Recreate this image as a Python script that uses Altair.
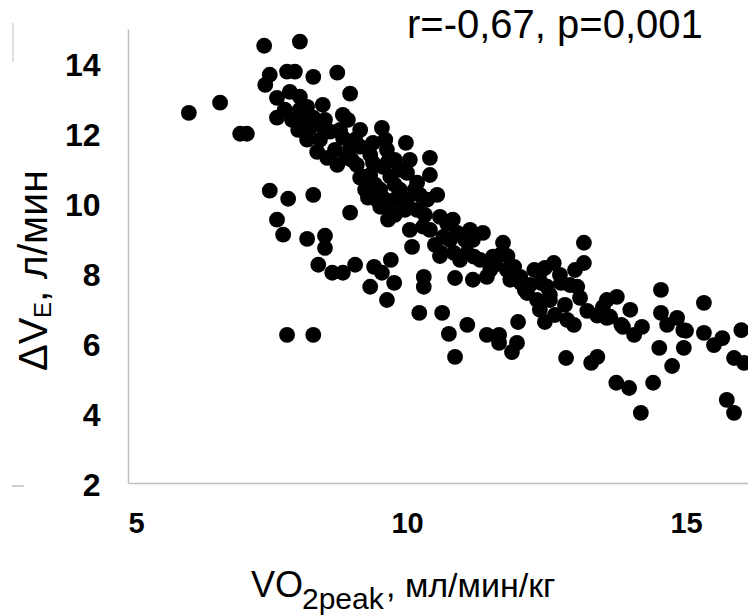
import altair as alt
import pandas as pd

# VO2peak (ml/min/kg) and ΔVE (l/min)
vo2 = [
    7.44, 8.08, 6.09, 6.65, 7.01, 7.13, 7.46, 7.54, 7.85, 7.99, 8.32, 8.75, 8.98, 7.67, 7.67,
    7.90, 8.08, 8.21, 8.49, 8.85, 8.05, 8.21, 8.39, 8.57, 8.75, 8.92, 8.98, 8.85, 8.62, 8.44,
    8.32, 9.10, 9.16, 8.94, 9.55, 9.98, 10.41, 10.41, 10.54, 8.98, 9.16, 9.39, 9.64, 9.21, 9.39,
    9.57, 9.70, 10.00, 10.18, 9.87, 9.30, 9.52, 9.66, 10.00, 10.18, 10.36, 10.05, 10.09, 10.29, 10.59,
    10.82, 10.90, 10.65, 10.59, 11.18, 11.36, 11.08, 11.31, 11.54, 11.72, 11.79, 12.03, 12.15, 12.38, 12.51,
    12.33, 10.86, 11.43, 9.66, 9.46, 9.71, 10.23, 10.61, 10.84, 11.20, 11.92, 12.28, 12.63, 12.04, 12.40,
    12.76, 13.05, 13.17, 13.17, 13.58, 13.76, 14.55, 15.32, 10.30, 10.30, 9.77, 9.71, 9.41,
    8.71, 9.01, 9.34, 9.78, 9.96, 9.78, 9.52, 9.25, 9.16, 8.44, 8.26, 8.08, 7.81, 7.94,
    10.41, 10.72, 11.04, 11.58, 11.80,
    12.47, 12.74, 12.92, 12.56, 12.83, 13.10, 12.65, 12.38, 13.01, 12.11, 12.56,
    9.34, 9.78, 10.05, 9.61, 9.87, 10.14, 9.78, 10.32, 10.50, 10.77, 10.95, 11.13, 11.67, 11.49,
    11.85, 12.20, 9.07, 8.80, 8.53, 8.17, 9.43, 9.61,
    7.54, 7.87, 8.32, 7.67, 7.78, 8.21, 8.53, 8.53, 8.41, 8.66, 8.85, 9.07, 7.85, 8.32,
    9.34, 9.55, 9.64, 10.22, 10.63, 11.08, 10.75, 10.86, 11.43, 11.65, 11.65, 11.88, 11.97, 11.99, 12.47,
    11.18, 12.85, 13.30, 13.41, 13.75, 13.98, 14.19, 14.41, 14.52, 14.75, 14.55, 14.84, 15.00, 14.96, 15.32,
    15.50, 15.65, 15.86, 16.04, 15.99, 15.73, 15.86, 13.58, 13.84, 14.07, 12.87, 12.99, 13.23, 13.41,
    14.00, 13.51, 13.64, 13.87, 14.21, 14.66, 14.95,
]
dve = [
    14.52, 14.64, 12.60, 12.89, 12.00, 12.00, 13.40, 13.69, 13.78, 13.78, 13.63, 13.75, 13.15, 13.03, 12.46,
    13.20, 13.06, 12.77, 12.83, 12.54, 12.11, 11.83, 11.48, 11.31, 11.11, 11.31, 11.60, 11.89, 12.06, 12.26,
    12.46, 11.11, 10.74, 12.40, 12.17, 11.74, 11.31, 10.82, 10.25, 9.74, 11.63, 11.74, 11.54, 10.77, 11.17,
    11.05, 10.77, 10.88, 10.60, 10.40, 10.17, 9.91, 9.54, 10.11, 9.82, 10.11, 9.25, 8.76, 9.34, 9.62,
    9.54, 9.16, 9.05, 8.50, 8.96, 9.16, 8.59, 8.39, 8.48, 8.88, 8.10, 7.90, 7.44, 8.02, 7.62,
    7.24, 7.87, 7.90, 11.20, 10.11, 9.74, 10.25, 8.59, 8.59, 8.48, 8.19, 8.10, 8.30, 7.73, 7.73,
    7.73, 7.62, 8.88, 8.30, 7.24, 7.33, 7.53, 7.16, 7.90, 7.62, 7.73, 8.39, 8.19,
    11.54, 11.25, 10.82, 10.54, 9.82, 10.11, 10.40, 10.40, 12.11, 11.83, 12.17, 12.69, 12.69, 12.40,
    9.25, 9.42, 8.96, 8.25, 8.50,
    8.16, 7.96, 7.67, 7.24, 7.10, 7.30, 6.81, 6.96, 8.10, 7.53, 7.39,
    11.40, 11.25, 11.25, 11.83, 10.97, 10.40, 9.68, 9.68, 8.82, 8.96, 8.39, 9.25, 8.53, 8.10,
    7.82, 7.67, 11.83, 12.11, 12.40, 12.40, 10.54, 10.11,
    10.37, 10.14, 10.25, 9.54, 9.11, 8.99, 9.08, 8.73, 8.25, 8.02, 8.02, 8.25, 6.24, 6.24,
    7.62, 8.02, 7.24, 6.87, 6.87, 6.53, 6.27, 5.61, 6.24, 6.24, 6.01, 5.75, 6.01, 6.61, 6.61,
    7.82, 5.58, 5.44, 5.61, 4.87, 4.72, 4.01, 4.87, 5.87, 5.35, 6.87, 6.73, 6.36, 5.87, 6.30,
    5.95, 6.15, 5.58, 5.44, 6.38, 4.38, 4.01, 6.73, 6.53, 6.24, 6.67, 6.53, 6.93, 6.79,
    6.96, 7.04, 6.76, 6.47, 6.47, 6.53, 6.38,
]

x_ticks = [5, 10, 15]
y_ticks = [2, 4, 6, 8, 10, 12, 14]
stat_text = ["r=-0,67, p=0,001"]
x_title_main = ["VO"]
x_title_sub = ["2peak"]
x_title_rest = [", мл/мин/кг"]
y_title_main = ["ΔV"]
y_title_sub = ["E"]
y_title_rest = [", л/мин"]

FONT = "Liberation Sans"
W, H = 620, 454

df = pd.DataFrame({"vo2": vo2, "dve": dve})

points = alt.Chart(df).mark_circle(size=250, color="black", opacity=1, clip=True).encode(
    x=alt.X("vo2:Q",
            scale=alt.Scale(domain=[5, 16.11], nice=False, zero=False),
            axis=alt.Axis(values=x_ticks, title=None, labelPadding=26, labelFontSize=29)),
    y=alt.Y("dve:Q",
            scale=alt.Scale(domain=[2, 15], nice=False, zero=False),
            axis=alt.Axis(values=y_ticks, title=None, labelPadding=28, labelFontSize=32,
                          labelOffset=2)),
)


def txt(values, size, x, y, angle=0):
    return alt.Chart(pd.DataFrame({"t": values})).mark_text(
        font=FONT, fontSize=size, color="black", align="left",
        baseline="alphabetic", angle=angle,
    ).encode(text="t:N", x=alt.value(x), y=alt.value(y))


# faint grey fragments at the left edge of the original figure
frag_v = alt.Chart(pd.DataFrame({"k": [0]})).mark_rule(color="#d9d9d9", strokeWidth=1.5).encode(
    x=alt.value(-115), y=alt.value(-6), y2=alt.value(33))
frag_h = alt.Chart(pd.DataFrame({"k": [0]})).mark_rule(color="#bfbfbf", strokeWidth=1.5).encode(
    x=alt.value(-116), x2=alt.value(-104), y=alt.value(457))

title = txt(stat_text, 40, 279, 9)
xt1 = txt(x_title_main, 36, 123, 568)
xt2 = txt(x_title_sub, 30, 174, 580)
xt3 = txt(x_title_rest, 34, 258, 568)
yt1 = txt(y_title_main, 40, -81, 342, angle=270)
yt2 = txt(y_title_sub, 24, -77, 289, angle=270)
yt3 = txt(y_title_rest, 41, -81, 273, angle=270)

chart = alt.layer(points, frag_v, frag_h, title, xt1, xt2, xt3, yt1, yt2, yt3).properties(
    width=W, height=H,
    autosize=alt.AutoSizeParams(type="none"),
    padding={"left": 128, "top": 29, "right": 0, "bottom": 133},
).configure_view(stroke=None).configure_axis(
    domainColor="#bfbfbf", domainWidth=1.5, ticks=False, grid=False,
    labelFont=FONT, labelFontWeight="bold", labelColor="black",
)

chart.save("out.html", embed_options={"renderer": "svg", "actions": False})
